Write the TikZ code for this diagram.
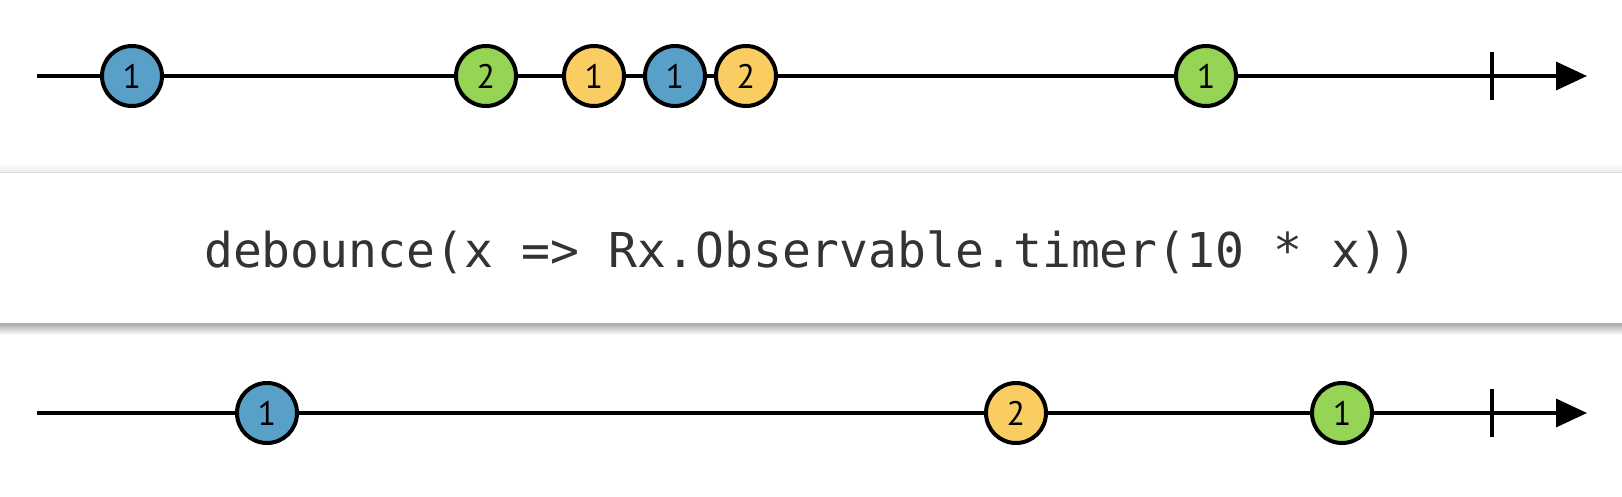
\documentclass[tikz,border=0pt]{standalone}
\usepackage{fontspec}
\setmainfont{PT Sans}
\newfontfamily\codefont{DejaVu Sans Mono}
\usetikzlibrary{arrows.meta}
\definecolor{mblue}{RGB}{88,160,200}
\definecolor{mgreen}{RGB}{150,212,85}
\definecolor{myellow}{RGB}{249,205,98}
\definecolor{codegray}{RGB}{51,51,51}
\tikzset{
  marble/.style={circle, draw=black, line width=4pt, minimum size=60pt, inner sep=0pt,
    font=\fontsize{34}{34}\selectfont},
  bluem/.style={marble, fill=mblue},
  greenm/.style={marble, fill=mgreen},
  yellowm/.style={marble, fill=myellow},
  timeline/.style={line width=3.5pt, -{Triangle[length=31pt,width=28pt]}},
  endtick/.style={line width=3.5pt},
}
\begin{document}
\begin{tikzpicture}[x=1pt,y=-1pt]
\useasboundingbox (0,0) rectangle (1622,496);
\fill[white] (0,0) rectangle (1622,496);
% operator box with shadow
\shade[top color=white, bottom color=black!8] (0,163) rectangle (1622,173);
\shade[top color=black!35, bottom color=white] (0,323) rectangle (1622,335);
\fill[white] (0,173) rectangle (1622,323);
\draw[black!15, line width=1.5pt] (0,172.5) -- (1622,172.5);
\draw[black!30, line width=1pt] (0,323) -- (1622,323);
\node (op) at (811,252) {\codefont\fontsize{48}{48}\selectfont\color{codegray}debounce(x => Rx.Observable.timer(10 * x))};
% top timeline
\coordinate (ts) at (37,76);
\coordinate (te) at (1587,76);
\draw[timeline] (ts) -- (te);
\coordinate (tt1) at (1492,52);
\coordinate (tt2) at (1492,100);
\draw[endtick] (tt1) -- (tt2);
\node[bluem]   (a1) at (132,76)  {1};
\node[greenm]  (a2) at (486,76)  {2};
\node[yellowm] (a3) at (594,76)  {1};
\node[bluem]   (a4) at (675,76)  {1};
\node[yellowm] (a5) at (746,76)  {2};
\node[greenm]  (a6) at (1206,76) {1};
% bottom timeline
\coordinate (bs) at (37,413);
\coordinate (be) at (1587,413);
\draw[timeline] (bs) -- (be);
\coordinate (bt1) at (1492,389);
\coordinate (bt2) at (1492,437);
\draw[endtick] (bt1) -- (bt2);
\node[bluem]   (b1) at (267,413)  {1};
\node[yellowm] (b2) at (1016,413) {2};
\node[greenm]  (b3) at (1342,413) {1};
\end{tikzpicture}
\end{document}
